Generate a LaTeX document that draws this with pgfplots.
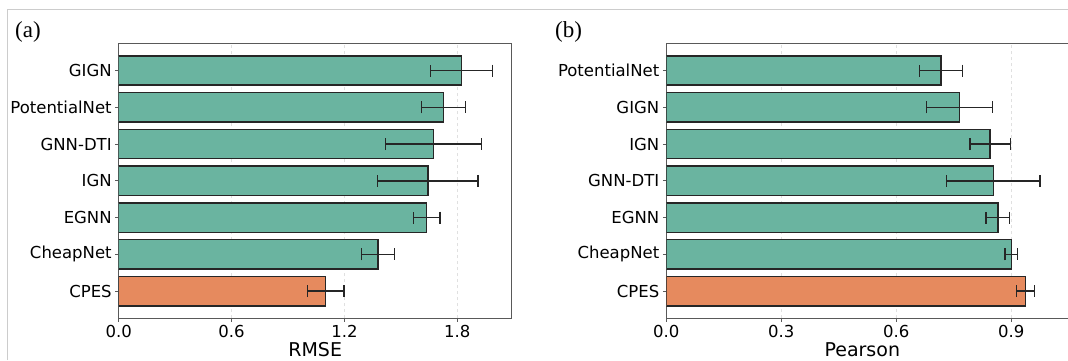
\documentclass[border=0pt]{standalone}
\usepackage{fontspec}
\setmainfont{DejaVu Sans}
\newfontfamily\seriffont{Liberation Serif}
\usepackage{pgfplots}
\usepackage{pgfplotstable}
\pgfplotsset{compat=1.18}
\definecolor{tealbar}{HTML}{6AB4A0}
\definecolor{orangebar}{HTML}{E68A5E}

\pgfplotstableread{
y x e
6 1.823 0.165
5 1.726 0.117
4 1.673 0.255
3 1.643 0.266
2 1.637 0.070
1 1.377 0.088
}\rmseA
\pgfplotstableread{
y x e
0 1.100 0.097
}\rmseB
\pgfplotstableread{
y x e
6 0.717 0.056
5 0.765 0.086
4 0.845 0.053
3 0.853 0.122
2 0.865 0.031
1 0.900 0.016
}\pearA
\pgfplotstableread{
y x e
0 0.937 0.024
}\pearB

\pgfplotsset{mybar/.style={
  scale only axis, height=275pt, ymin=-0.74, ymax=6.74,
  xbar, bar width=0.8, bar shift=0pt, xmin=0,
  axis line style={draw=black!65, line width=0.9pt},
  tick pos=left, tick align=outside, major tick length=3.5pt,
  tick style={black!65, line width=0.8pt},
  ytick={0,...,6},
  xmajorgrids, major grid style={dashed, black!12, line width=0.6pt},
  ticklabel style={font=\fontsize{16.5}{16.5}\selectfont},
  /pgf/number format/assume math mode=true,
  xticklabel style={/pgf/number format/.cd, fixed, fixed zerofill, precision=1},
  every axis x label/.style={at={(axis description cs:0.5,0)}, anchor=base, yshift=-38.5pt, font=\fontsize{19}{19}\selectfont},
  every axis plot/.append style={draw=black!85, line width=1.5pt},
  myerr/.style={error bars/.cd, x dir=both, x explicit, error mark=|,
    error bar style={black!85, line width=1.4pt},
    error mark options={black!85, line width=1.4pt, mark size=6pt}},
}}

\begin{document}
\begin{tikzpicture}[x=1pt,y=1pt]
\useasboundingbox (0,0) rectangle (1068,360);
\clip (0,0) rectangle (1068,360);
\draw[black!20, line width=1pt] (7.5,0) -- (7.5,350.7) -- (1068,350.7);
\node[anchor=base west, font=\seriffont\fontsize{23}{23}\selectfont, inner sep=0pt] at (15,323) {(a)};
\node[anchor=base west, font=\seriffont\fontsize{23}{23}\selectfont, inner sep=0pt] at (555,323) {(b)};

\begin{axis}[mybar, at={(118.7pt,41.7pt)}, anchor=south west,
  width=393pt, xmax=2.089, xtick={0,0.6,1.2,1.8},
  yticklabels={CPES,CheapNet,EGNN,IGN,GNN-DTI,PotentialNet,GIGN},
  xlabel={RMSE}]
\addplot[fill=tealbar, myerr] table[x=x, y=y, x error=e] {\rmseA};
\addplot[fill=orangebar, myerr] table[x=x, y=y, x error=e] {\rmseB};
\end{axis}

\begin{axis}[mybar, at={(666.3pt,41.7pt)}, anchor=south west,
  width=406.3pt, xmax=1.06, xtick={0,0.3,0.6,0.9},
  yticklabels={CPES,CheapNet,EGNN,GNN-DTI,IGN,GIGN,PotentialNet},
  xlabel={Pearson},
  every axis x label/.append style={at={(axis description cs:0.4824,0)}}]
\addplot[fill=tealbar, myerr] table[x=x, y=y, x error=e] {\pearA};
\addplot[fill=orangebar, myerr] table[x=x, y=y, x error=e] {\pearB};
\end{axis}
\end{tikzpicture}
\end{document}
